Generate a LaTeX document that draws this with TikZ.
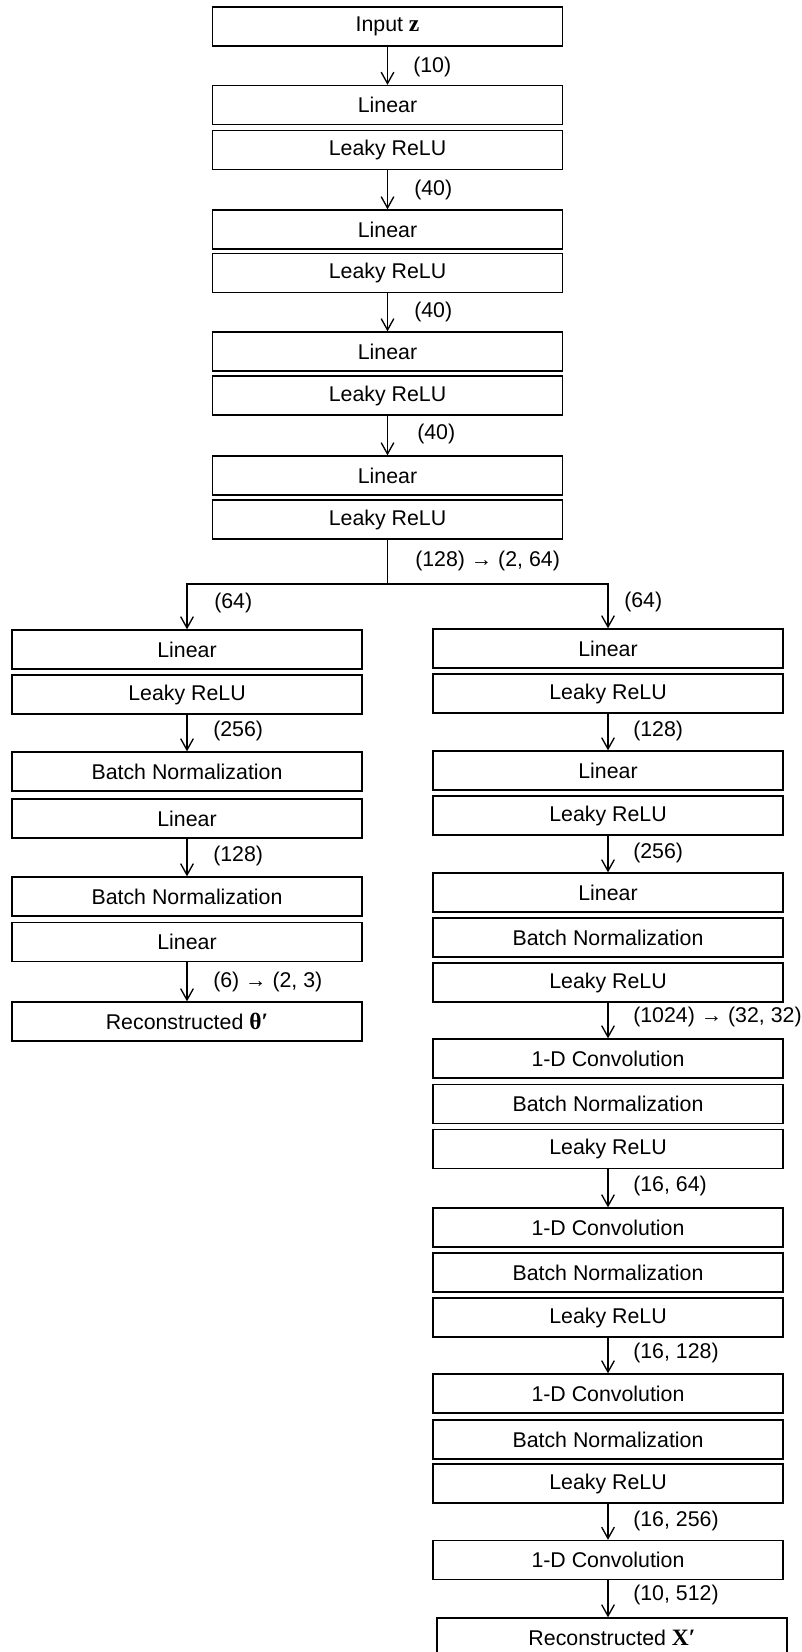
\documentclass[tikz,border=0pt]{standalone}
\usepackage{fontspec}
\setmainfont{Liberation Sans}
\newfontfamily\mserif{Liberation Serif}[Scale=1.1]
\usetikzlibrary{arrows.meta}
\begin{document}
\begin{tikzpicture}[x=0.75pt,y=-0.75pt,
  blk/.style={draw, line width=1pt, minimum width=262.5pt, minimum height=29.25pt, inner sep=0pt, font=\fontsize{16}{19}\selectfont},
  arr/.style={-{Straight Barb[length=8.5pt,width=9.5pt]}, line width=1pt},
  lab/.style={anchor=west, inner sep=0pt, font=\fontsize{16}{19}\selectfont}]
\useasboundingbox (0,0) rectangle (802,1652);
\clip (0,0) rectangle (802,1652);
% top column
\node[blk] (t0) at (387.5,26.5) {Input {\mserif\bfseries z}};
\node[blk] (t1) at (387.5,105) {Linear};
\node[blk] (t2) at (387.5,150) {Leaky ReLU};
\node[blk] (t3) at (387.5,229.5) {Linear};
\node[blk] (t4) at (387.5,273) {Leaky ReLU};
\node[blk] (t5) at (387.5,351.5) {Linear};
\node[blk] (t6) at (387.5,395.5) {Leaky ReLU};
\node[blk] (t7) at (387.5,475.5) {Linear};
\node[blk] (t8) at (387.5,519.5) {Leaky ReLU};
\draw[arr] (t0) -- (t1);
\draw[arr] (t2) -- (t3);
\draw[arr] (t4) -- (t5);
\draw[arr] (t6) -- (t7);
\node[lab] (a0) at (413,67) {(10)};
\node[lab] (a1) at (414,190) {(40)};
\node[lab] (a2) at (414,312) {(40)};
\node[lab] (a3) at (417,434) {(40)};
\node[lab] (a4) at (415,561) {(128) → (2, 64)};
% left column
\node[blk] (l1) at (187,649.5) {Linear};
\node[blk] (l2) at (187,694.5) {Leaky ReLU};
\node[blk] (l3) at (187,771.5) {Batch Normalization};
\node[blk] (l4) at (187,818.5) {Linear};
\node[blk] (l5) at (187,896.5) {Batch Normalization};
\node[blk] (l6) at (187,942) {Linear};
\node[blk] (l7) at (187,1021.5) {Reconstructed {\mserif\bfseries θ′}};
% right column
\node[blk] (r1) at (608,648.5) {Linear};
\node[blk] (r2) at (608,693.5) {Leaky ReLU};
\node[blk] (r3) at (608,770.5) {Linear};
\node[blk] (r4) at (608,815.5) {Leaky ReLU};
\node[blk] (r5) at (608,892.5) {Linear};
\node[blk] (r6) at (608,937.5) {Batch Normalization};
\node[blk] (r7) at (608,982.5) {Leaky ReLU};
\node[blk] (r8) at (608,1058.5) {1-D Convolution};
\node[blk] (r9) at (608,1104) {Batch Normalization};
\node[blk] (r10) at (608,1149) {Leaky ReLU};
\node[blk] (r11) at (608,1227.5) {1-D Convolution};
\node[blk] (r12) at (608,1272.5) {Batch Normalization};
\node[blk] (r13) at (608,1317.5) {Leaky ReLU};
\node[blk] (r14) at (608,1393.5) {1-D Convolution};
\node[blk] (r15) at (608,1439.5) {Batch Normalization};
\node[blk] (r16) at (608,1483.5) {Leaky ReLU};
\node[blk] (r17) at (608,1560) {1-D Convolution};
\node[blk] (r18) at (612,1637.5) {Reconstructed {\mserif\bfseries X′}};
% split
\coordinate (split) at (387.5,584);
\draw[line width=1pt] (t8.south) -- (split);
\draw[arr] (split) -| (l1.north);
\draw[arr] (split) -| (r1.north);
% left arrows
\draw[arr] (l2) -- (l3);
\draw[arr] (l4) -- (l5);
\draw[arr] (l6) -- (l7);
\node[lab] (b0) at (214,603) {(64)};
\node[lab] (b1) at (213,731) {(256)};
\node[lab] (b2) at (213,856) {(128)};
\node[lab] (b3) at (213,982) {(6) → (2, 3)};
% right arrows
\draw[arr] (r2) -- (r3);
\draw[arr] (r4) -- (r5);
\draw[arr] (r7) -- (r8);
\draw[arr] (r10) -- (r11);
\draw[arr] (r13) -- (r14);
\draw[arr] (r16) -- (r17);
\draw[arr] (r17.south) -- (r17.south |- r18.north);
\node[lab] (c0) at (624,602) {(64)};
\node[lab] (c1) at (633,731) {(128)};
\node[lab] (c2) at (633,853) {(256)};
\node[lab] (c3) at (633,1017) {(1024) → (32, 32)};
\node[lab] (c4) at (633,1186) {(16, 64)};
\node[lab] (c5) at (633,1353) {(16, 128)};
\node[lab] (c6) at (633,1521) {(16, 256)};
\node[lab] (c7) at (633,1595) {(10, 512)};
\end{tikzpicture}
\end{document}
